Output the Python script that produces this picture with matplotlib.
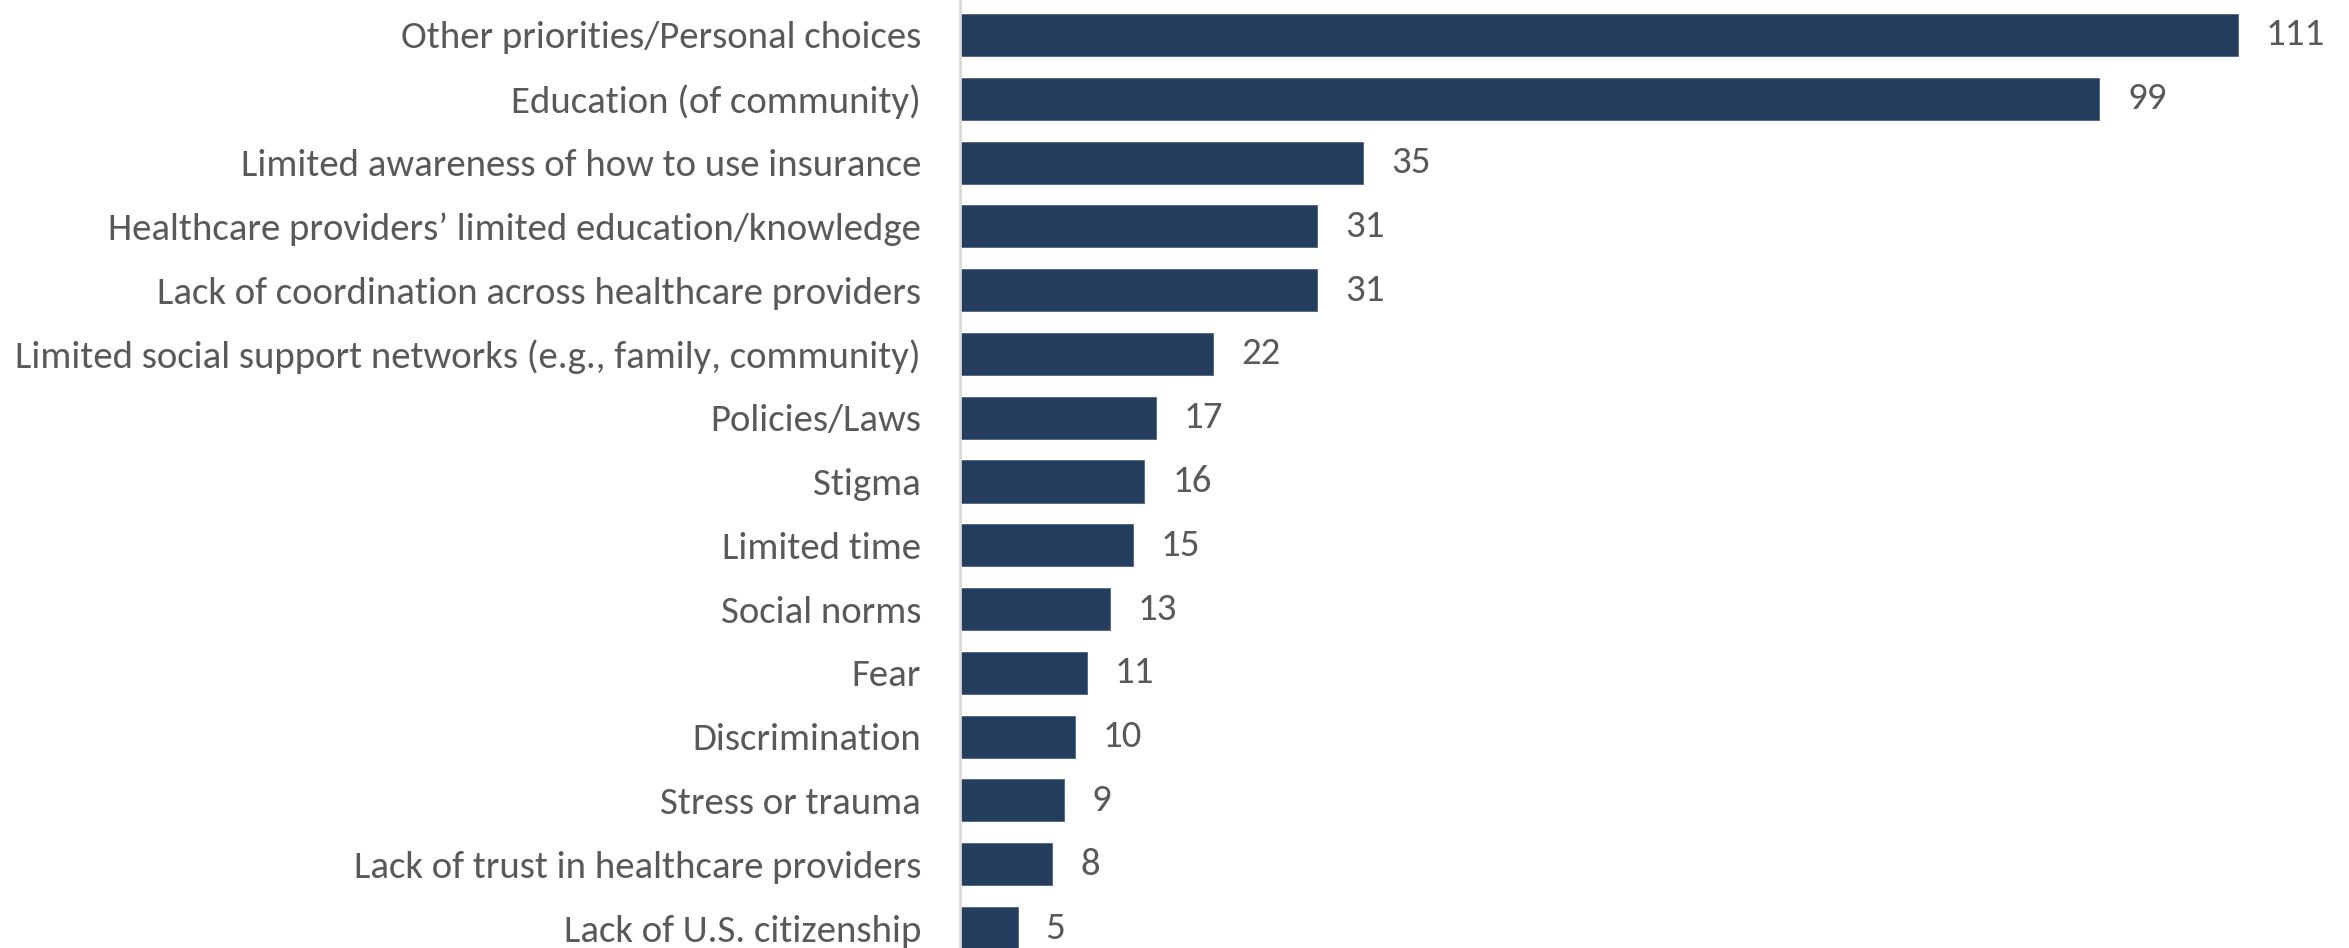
import matplotlib
matplotlib.use("Agg")
import matplotlib.pyplot as plt
from matplotlib import font_manager

categories = [
    "Other priorities/Personal choices",
    "Education (of community)",
    "Limited awareness of how to use insurance",
    "Healthcare providers\u2019 limited education/knowledge",
    "Lack of coordination across healthcare providers",
    "Limited social support networks (e.g., family, community)",
    "Policies/Laws",
    "Stigma",
    "Limited time",
    "Social norms",
    "Fear",
    "Discrimination",
    "Stress or trauma",
    "Lack of trust in healthcare providers",
    "Lack of U.S. citizenship",
]
counts = [111, 99, 35, 31, 31, 22, 17, 16, 15, 13, 11, 10, 9, 8, 5]

# Calibri-like face if one is around, else a narrow sans
names = {f.name for f in font_manager.fontManager.ttflist}
family = next(n for n in ["Carlito", "Liberation Sans Narrow", "Arimo", "Liberation Sans"]
              if n in names)

W, H, dpi = 2349, 948, 100
fig = plt.figure(figsize=(W / dpi, H / dpi), dpi=dpi)
x0 = 960
ax = fig.add_axes([x0 / W, 0, 1 - x0 / W, 1])

px_per_unit = 11.51
row = 63.8
ax.set_xlim(0, (W - x0) / px_per_unit)
ax.set_ylim(14 + (H - 928) / row, -35 / row)

ypos = range(len(categories))
ax.barh(ypos, counts, height=0.66, color="#253E5D", edgecolor="#4a6283", linewidth=0.6)

for y, v in zip(ypos, counts):
    ax.text(v + 28 / px_per_unit, y, str(v), va="center", ha="left",
            fontsize=28, color="#595959", family=family)

ax.set_yticks(list(ypos))
ax.set_yticklabels(categories, fontsize=28, color="#595959", family=family)
ax.tick_params(axis="y", length=0, pad=28)
ax.set_xticks([])
for s in ["top", "right", "bottom"]:
    ax.spines[s].set_visible(False)
ax.spines["left"].set_color("#d9d9d9")
ax.spines["left"].set_linewidth(2)

fig.savefig("out.png", dpi=dpi)
